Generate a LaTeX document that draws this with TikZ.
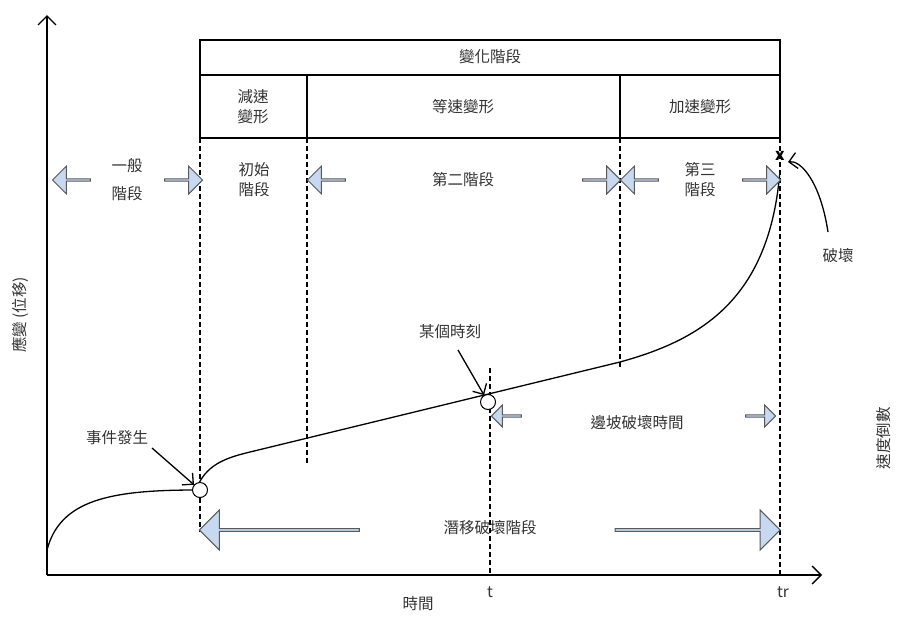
\documentclass[tikz,border=0pt]{standalone}
\usepackage{fontspec}
\setmainfont{Noto Sans CJK TC}
\usetikzlibrary{shapes.arrows,arrows.meta}
\begin{document}
\begin{tikzpicture}[x=1pt,y=-1pt,line width=1.3pt,
 ba/.style={single arrow,draw=gray!70!black,line width=1pt,fill={rgb,255:red,198;green,217;blue,240},single arrow head extend=6pt,minimum height=#1,inner sep=0pt,minimum width=28pt},
 txt/.style={font=\fontsize{15.5}{20}\selectfont,align=center,text=black!80},
 dl/.style={dash pattern=on 5pt off 3pt,line width=1.3pt},
 lab/.style={font=\fontsize{15.5}{20}\selectfont,text=black!80}]
\useasboundingbox (0,0) rectangle (909,632);
% axes
\coordinate (o) at (47,575);
\coordinate (ytop) at (47,15);
\coordinate (xend) at (822,575);
\draw[-{Straight Barb[length=9pt]}] (o) -- (ytop);
\draw[-{Straight Barb[length=9pt]}] (o) -- (xend);
% top table
\draw (200,40) rectangle (780,75);
\draw (200,75) rectangle (780,138);
\draw (307,75) -- (307,138) (620,75) -- (620,138);
\node[txt] (t0) at (490,57) {變化階段};
\node[txt] (t1) at (253,107) {減速\\變形};
\node[txt] (t2) at (463,107) {等速變形};
\node[txt] (t3) at (700,107) {加速變形};
% dashed lines
\draw[dl] (200,138) -- (200,532);
\draw[dl] (307,138) -- (307,465);
\draw[dl] (620,138) -- (620,368);
\draw[dl] (780,138) -- (780,575);
\draw[dl] (490,368) -- (490,575);
% curve
\draw (47,550) .. controls (60,500) and (110,490) .. (196,490)
 .. controls (205,465) and (225,458) .. (250,452)
 -- (620,362) .. controls (700,340) and (770,300) .. (780,170);
\node[circle,draw,line width=1pt,fill=white,minimum size=15pt,inner sep=0pt] (c1) at (200,490) {};
\node[circle,draw,line width=1pt,fill=white,minimum size=15pt,inner sep=0pt] (c2) at (488,402) {};
% block arrows
\node[ba=38pt,shape border rotate=180] (a1) at (72,180) {};
\node[ba=38pt] (a2) at (183,180) {};
\node[ba=38pt,shape border rotate=180] (a3) at (327,180) {};
\node[ba=38pt] (a4) at (601,180) {};
\node[ba=38pt,shape border rotate=180] (a5) at (640,180) {};
\node[ba=38pt] (a6) at (761,180) {};
\node[ba=30pt,shape border rotate=180,minimum width=22pt,single arrow head extend=4pt] (a7) at (507,416) {};
\node[ba=30pt,minimum width=22pt,single arrow head extend=4pt] (a8) at (760,416) {};
\node[ba=160pt,shape border rotate=180,minimum width=40pt,single arrow head extend=7pt] (a9) at (280,530) {};
\node[ba=165pt,minimum width=40pt,single arrow head extend=7pt] (a10) at (697,530) {};
% labels
\node[txt] (l1) at (127,180) {一般\\[8pt]階段};
\node[txt] (l2) at (254,180) {初始\\階段};
\node[txt] (l3) at (463,180) {第二階段};
\node[txt] (l4) at (700,180) {第三\\階段};
\node[font=\fontsize{16}{18}\selectfont\bfseries] (x) at (780,156) {x};
\node[lab] (pw) at (838,256) {破壞};
\draw[-{Straight Barb[length=8pt]}] (828,232) .. controls (820,180) and (800,160) .. (788,162);
\node[lab] (ev) at (117,438) {事件發生};
\draw[-{Straight Barb[length=8pt]}] (152,448) -- (c1);
\node[lab] (mo) at (450,332) {某個時刻};
\draw[-{Straight Barb[length=8pt]}] (458,350) -- (c2);
\node[lab] (bp) at (637,423) {邊坡破壞時間};
\node[lab] (cr) at (490,528) {潛移破壞階段};
\node[lab] (tt) at (490,592) {t};
\node[lab] (tr) at (783,592) {tr};
\node[lab] (xl) at (418,604) {時間};
\node[lab,rotate=90] (yl) at (20,315) {應變 (位移)};
\node[lab,rotate=90] (yr) at (884,438) {速度倒數};
\end{tikzpicture}
\end{document}
